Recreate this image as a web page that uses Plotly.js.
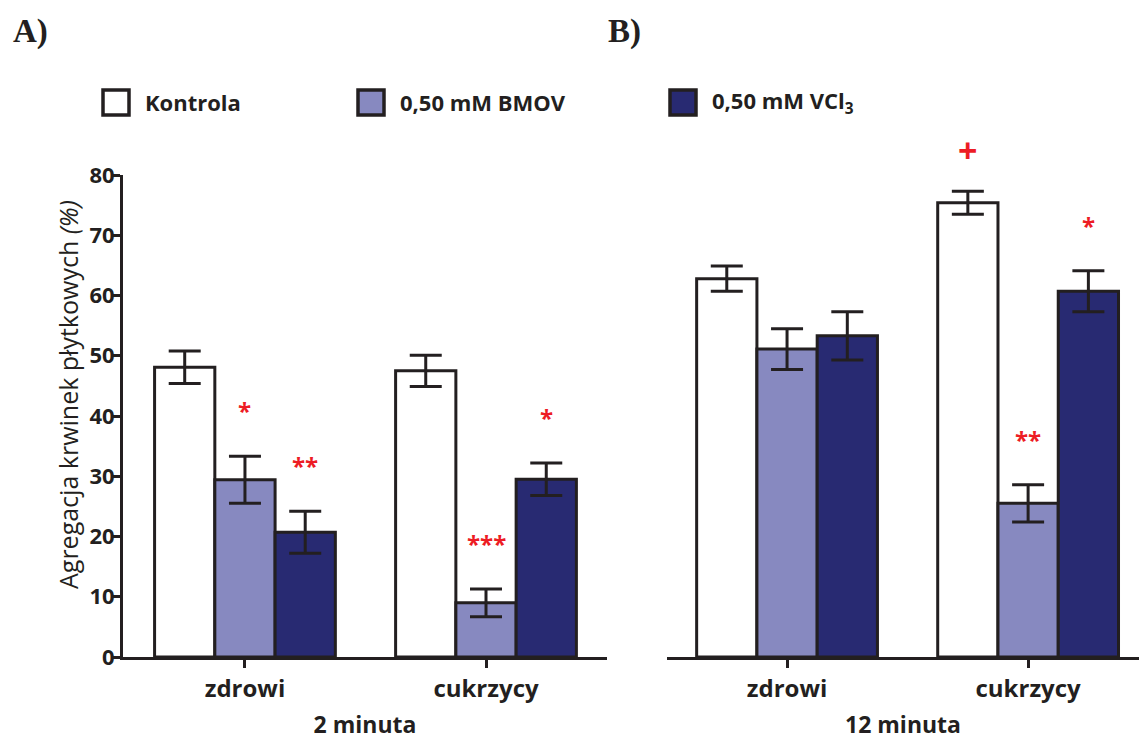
<!DOCTYPE html>
<html>
<head>
<meta charset="utf-8">
<script src="https://cdn.plot.ly/plotly-3.0.1.min.js"></script>
<style>html,body{margin:0;padding:0;background:#fff;}#chart{width:1139px;height:740px;}</style>
</head>
<body>
<div id="chart"></div>
<script>
// ---- data ----
const categories = ['zdrowi', 'cukrzycy'];
const seriesNames = ['Kontrola', '0,50 mM BMOV', '0,50 mM VCl<sub>3</sub>'];
const seriesColors = ['#FFFFFF', '#8789C0', '#282A72'];
const panelTitles = ['2 minuta', '12 minuta'];
const panelLabels = ['A)', 'B)'];
const yTitle = 'Agregacja krwinek płytkowych <i>(%)</i>';

// 2 minuta
const min2Kontrola = [48.1, 47.5];
const min2KontrolaErr = [2.7, 2.6];
const min2Bmov = [29.4, 9.0];
const min2BmovErr = [3.9, 2.3];
const min2Vcl3 = [20.7, 29.5];
const min2Vcl3Err = [3.5, 2.7];
const min2KontrolaSig = ['', ''];
const min2BmovSig = ['*', '***'];
const min2Vcl3Sig = ['**', '*'];

// 12 minuta
const min12Kontrola = [62.8, 75.4];
const min12KontrolaErr = [2.1, 1.9];
const min12Bmov = [51.1, 25.5];
const min12BmovErr = [3.4, 3.1];
const min12Vcl3 = [53.3, 60.7];
const min12Vcl3Err = [4.0, 3.4];
const min12KontrolaSig = ['', '+'];
const min12BmovSig = ['', '**'];
const min12Vcl3Sig = ['', '*'];

// ---- build ----
const INK = '#231F20';
const RED = '#ED1C24';
const FONT = '"Open Sans", Lato, sans-serif';
const W = 1139, H = 740;
const M = {l: 123, r: 0, t: 175, b: 83};
const pw = W - M.l - M.r, ph = H - M.t - M.b;
const px2x = p => (p - M.l) / pw;
const py2y = p => (H - M.b - p) / ph;

const panels = [
  {xa: 'x', vals: [min2Kontrola, min2Bmov, min2Vcl3], errs: [min2KontrolaErr, min2BmovErr, min2Vcl3Err], sigs: [min2KontrolaSig, min2BmovSig, min2Vcl3Sig]},
  {xa: 'x2', vals: [min12Kontrola, min12Bmov, min12Vcl3], errs: [min12KontrolaErr, min12BmovErr, min12Vcl3Err], sigs: [min12KontrolaSig, min12BmovSig, min12Vcl3Sig]}
];

const traces = [];
const annotations = [];
const bargap = 0.25;
const barW = (1 - bargap) / 3;
panels.forEach((p, pi) => {
  p.vals.forEach((v, si) => {
    traces.push({
      type: 'bar', x: categories, y: v, name: seriesNames[si],
      xaxis: p.xa, yaxis: 'y', showlegend: false,
      marker: {color: seriesColors[si], line: {color: INK, width: 3}},
      error_y: {type: 'data', array: p.errs[si], visible: true, color: INK, thickness: 3, width: 16},
      hoverinfo: 'skip'
    });
    p.sigs[si].forEach((s, ci) => {
      if (!s) return;
      const isPlus = s === '+';
      annotations.push({
        xref: p.xa, yref: 'y', x: ci + (si - 1) * barW, y: v[ci] + p.errs[si][ci],
        text: s, showarrow: false, yanchor: 'bottom', yshift: isPlus ? 16 : 27,
        font: {family: FONT, size: isPlus ? 34 : 24, color: RED, weight: 'bold'}
      });
    });
  });
});

// panel labels
panelLabels.forEach((t, i) => {
  annotations.push({xref: 'paper', yref: 'paper', x: px2x(i === 0 ? 11 : 606), y: py2y(32),
    xanchor: 'left', yanchor: 'middle', text: t, showarrow: false,
    font: {family: '"Liberation Serif", "Times New Roman", serif', size: 33, color: INK, weight: 'bold'}});
});

// y axis title (placed like the reference, slightly above plot centre)
annotations.push({xref: 'paper', yref: 'paper', x: px2x(68), y: py2y(395),
  xanchor: 'center', yanchor: 'middle', textangle: -90, text: yTitle, showarrow: false,
  font: {family: FONT, size: 25, color: INK}});

// legend (custom, drawn in paper coords)
const legendBoxX = [103, 358, 670];
const shapes = [];
seriesNames.forEach((n, i) => {
  shapes.push({type: 'rect', xref: 'paper', yref: 'paper',
    x0: px2x(legendBoxX[i]), x1: px2x(legendBoxX[i] + 26), y0: py2y(90), y1: py2y(115),
    fillcolor: seriesColors[i], line: {color: INK, width: 3.5}});
  annotations.push({xref: 'paper', yref: 'paper', x: px2x(legendBoxX[i] + 40), y: py2y(102),
    xanchor: 'left', yanchor: 'middle', text: n, showarrow: false,
    font: {family: FONT, size: 22, color: INK, weight: 'bold'}});
});

const xCommon = {
  type: 'category', showline: true, linecolor: INK, linewidth: 3,
  ticks: 'outside', ticklen: 8, tickwidth: 3, tickcolor: INK,
  tickfont: {family: FONT, size: 24, color: INK, weight: 'bold'},
  showgrid: false, zeroline: false, automargin: false, fixedrange: true
};

const layout = {
  width: W, height: H, margin: M,
  paper_bgcolor: '#fff', plot_bgcolor: 'rgba(0,0,0,0)',
  barmode: 'group', bargap: bargap, bargroupgap: 0,
  showlegend: false,
  xaxis: Object.assign({}, xCommon, {domain: [0, px2x(607)], range: [-0.506, 1.502], anchor: 'y',
    title: {text: panelTitles[0], font: {family: FONT, size: 23, color: INK, weight: 'bold'}, standoff: 20}}),
  xaxis2: Object.assign({}, xCommon, {domain: [px2x(667), 1], range: [-0.498, 1.46], anchor: 'y',
    title: {text: panelTitles[1], font: {family: FONT, size: 23, color: INK, weight: 'bold'}, standoff: 20}}),
  yaxis: {
    range: [0, 80], dtick: 10, showline: true, linecolor: INK, linewidth: 3,
    ticks: 'outside', ticklen: 8, tickwidth: 3, tickcolor: INK, ticklabelstandoff: -7,
    tickfont: {family: FONT, size: 22, color: INK, weight: 'bold'},
    showgrid: false, zeroline: false, automargin: false, fixedrange: true
  },
  shapes: shapes,
  annotations: annotations
};

Plotly.newPlot('chart', traces, layout, {staticPlot: true, displayModeBar: false});
</script>
</body>
</html>
